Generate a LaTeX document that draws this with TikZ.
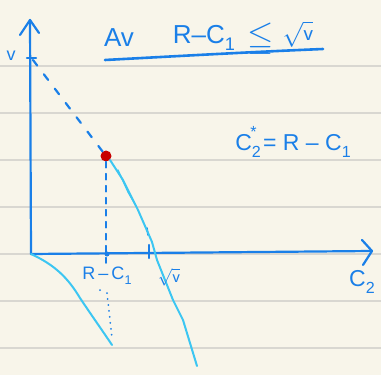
\documentclass[tikz,border=0pt]{standalone}
\usepackage{amsmath,amssymb}
\usepackage{fontspec}
\setmainfont{Liberation Sans}
\usetikzlibrary{arrows.meta}
\definecolor{paper}{HTML}{F8F5EA}
\definecolor{ruleline}{HTML}{D9D7D1}
\definecolor{ink}{HTML}{1A7FE8}
\definecolor{cyanink}{HTML}{3CC6F2}
\definecolor{dotred}{HTML}{C80000}
\newcommand{\subb}[1]{\raisebox{-0.3em}{\scalebox{0.7}{#1}}}
\newcommand{\supp}[1]{\raisebox{0.6em}{\scalebox{0.7}{#1}}}
\begin{document}
\begin{tikzpicture}[x=1pt,y=-1pt,
  pen/.style={draw=ink,line width=2.2pt,line cap=round,line join=round},
  cpen/.style={draw=cyanink,line width=2pt,line cap=round,line join=round},
  lbl/.style={text=ink,inner sep=0pt,font=\fontsize{26}{30}\selectfont},
  mlbl/.style={text=ink,inner sep=0pt,font=\fontsize{23}{27}\selectfont},
  slbl/.style={text=ink,inner sep=0pt,font=\fontsize{18}{21}\selectfont}]
\fill[paper] (0,0) rectangle (381,375);
\useasboundingbox (0,0) rectangle (381,375);
\foreach \y in {66,113,160,207,254,301,348}
  \draw[ruleline,line width=1.2pt] (0,\y) -- (381,\y);
% key points
\coordinate (O) at (31,254);
\coordinate (Ytop) at (30,20);
\coordinate (Xend) at (372,251);
\coordinate (V) at (33,60);
\coordinate (Pfoot) at (106,263);
\coordinate (Send) at (197,366);
\coordinate (Ctop) at (107,293);
\coordinate (Cbot) at (112,338);
\coordinate (Qend) at (112,345);
\node[circle,fill=dotred,inner sep=0pt,minimum size=11pt] (P) at (106,156) {};
% axes
\draw[pen] (O) -- (Ytop);
\draw[pen] (O) -- (Xend);
\draw[pen] (20,35) -- (Ytop) -- (39,33);
\draw[pen] (362,240) -- (Xend) -- (363,265);
% v tick and label
\draw[pen] (27,58) -- (36,58);
\node[slbl] (vlab) at (11,56) {v};
% dashed budget line
\draw[pen,dash pattern=on 7pt off 11pt] (V) -- (P);
% dashed drop
\draw[pen,line width=1.8pt,dash pattern=on 6pt off 6pt] (P) -- (Pfoot);
\fill[ink] (107,254) circle (2.5pt);
% sqrt v tick
\draw[pen] (149,245) -- (149,258);
\draw[pen,line width=1.6pt] (147,228) -- (148,235);
% cyan line
\draw[cpen] (P.south east) -- (123,180) -- (138,210) -- (152,242) -- (157,260) -- (173,300) -- (183,320) -- (Send);
\draw[cpen,line width=1.4pt] (118,170) -- (128,192) -- (136,206);
% cyan curve from origin
\draw[cpen] (O) .. controls (55,265) and (68,278) .. (80,298) .. controls (92,316) and (102,330) .. (Qend);
% dotted
\draw[ink,line width=2pt,line cap=round,dash pattern=on 0pt off 6pt] (Ctop) -- (Cbot);
\fill[ink] (100,290) circle (1pt);
% labels on axis
\node[slbl] (rc) at (107,276) {R\,–\,C\subb{1}};
\node[slbl] (sv) at (169,277) {$\sqrt{\mathsf{v}}$};
\node[mlbl] (c2) at (362,282) {C\subb{2}};
% equation
\node[mlbl] (eq) at (293,142) {C\subb{2}\hspace{-0.45em}\supp{*} = R – C\subb{1}};
% title
\node[lbl] (av) at (119,38) {Av};
\node[lbl] (trc) at (204,38) {R–C\subb{1}};
\node[lbl] (tle) at (261,40) {\scalebox{1.3}{$\boldsymbol{\leqq}$}};
\node[mlbl] (tsv) at (298,34) {$\sqrt{\mathsf{v}}$};
\draw[pen,line width=2.6pt] (105,60) .. controls (180,56) and (250,52) .. (323,49);
\end{tikzpicture}
\end{document}
